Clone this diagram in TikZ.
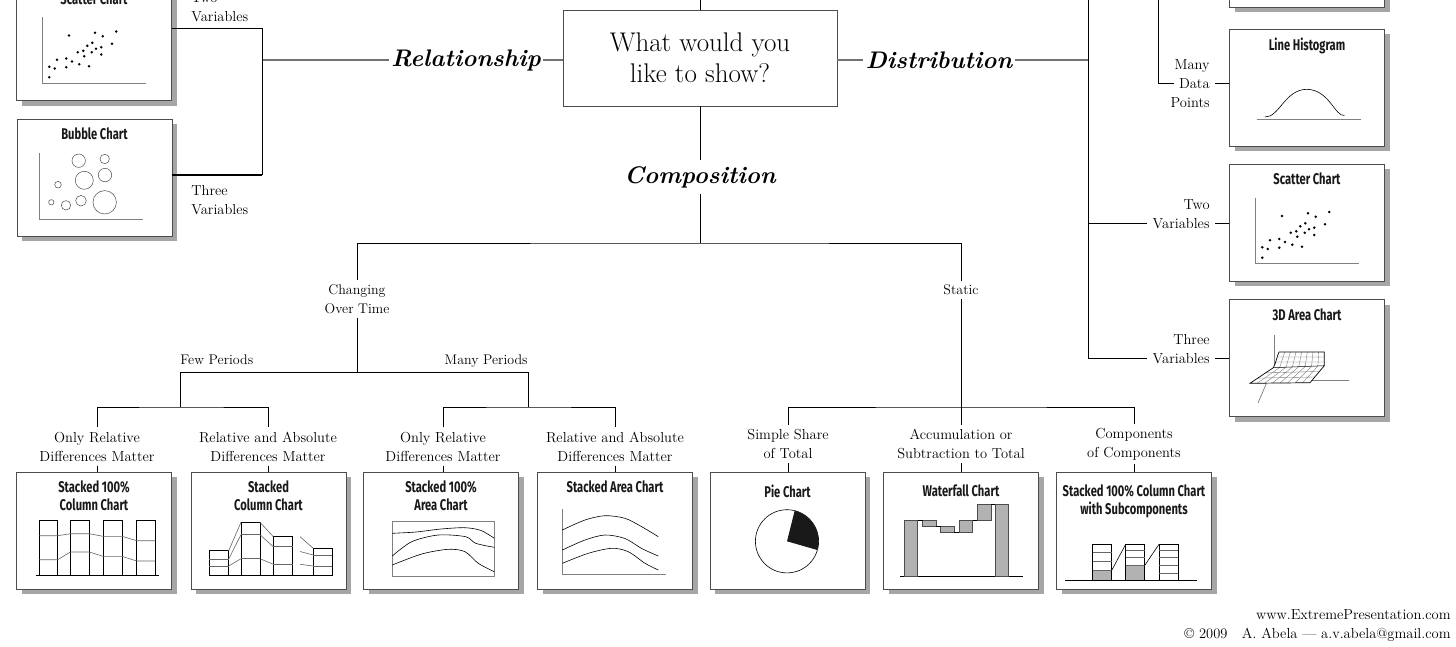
\documentclass[tikz,border=0pt]{standalone}
\usepackage{fontspec}
\newfontfamily\chartfont[FakeStretch=0.72]{Fira Sans}
\usetikzlibrary{positioning,shadows}

\newcommand{\scatterdots}{%
  \draw[axisline] (-52,-25) -- (-52,41) -- (52,41);
  \foreach \x/\y in {-25/-6.5,1/-9.2,8.7/-5.8,22.3/-10.5,18/1.8,-1.7/0.8,-6.7/3.8,-10.7/8.8,-16.3/10.2,2/6.8,7.3/5.2,7.3/12.5,-2.3/10.2,-9.7/14.2,-22/19.5,-27.7/16.5,-37/17.8,-44.7/24.8,-39.3/26.5,-27.7/25.2,-14.7/22.2,-5/24.2,-44.7/35.2}
    \fill (\x,\y) circle[radius=1.4];
}

\begin{document}
\begin{tikzpicture}[x=1pt,y=-1pt,line width=0.8pt,
chartbox/.style={draw=black!70,fill=white,line width=0.9pt,minimum width=155pt,minimum height=117pt,inner sep=0pt,
  drop shadow={shadow xshift=5pt,shadow yshift=-5pt,fill=black!35,opacity=1}},
ctitle/.style={font=\chartfont\bfseries\fontsize{15.5}{18}\selectfont,align=center,inner sep=0pt,text=black!90},
qbox/.style={draw=black!70,line width=0.9pt,minimum width=274pt,minimum height=96pt,align=center,font=\fontsize{27}{31}\selectfont},
cat/.style={font=\bfseries\itshape\fontsize{24}{28}\selectfont,inner xsep=2pt,inner ysep=6pt},
lbl/.style={font=\fontsize{14.5}{19}\selectfont,align=center,inner xsep=5pt,inner ysep=4pt},
sublbl/.style={font=\fontsize{14}{19}\selectfont,align=center,inner xsep=5pt,inner ysep=4pt},
note/.style={font=\fontsize{14.5}{19}\selectfont,inner sep=0pt},
catline/.style={draw=black!55,line width=1.3pt},
axisline/.style={draw=black!50,line width=0.7pt},
thinline/.style={line width=0.6pt}]

\useasboundingbox (0,0) rectangle (1456,646);
\clip (0,0) rectangle (1456,646);

\draw (700,58) node[qbox] (q) {What would you\\like to show?};
\draw (466,60) node[cat] (rel) {Relationship};
\draw (939,60) node[cat] (dist) {Distribution};
\draw (700,177) node[cat] (comp) {Composition};

\coordinate (qtop) at (700,-2);
\coordinate (jl) at (262,60);
\coordinate (jlt) at (262,28);
\coordinate (jlb) at (262,175);
\coordinate (jr) at (1088,60);
\coordinate (jrt) at (1088,-2);
\coordinate (jmt) at (1158,-2);
\coordinate (jc) at (700,243);
\coordinate (jtime) at (357,372);
\coordinate (jfewt) at (180,372);
\coordinate (jmanyt) at (528,372);
\coordinate (jfew) at (180,407);
\coordinate (jmany) at (528,407);
\coordinate (jstat) at (961,407);

\draw (94,42) node[chartbox] (scatL) {};
\draw (94.5,177.5) node[chartbox] (bubble) {};
\draw (1307,-51.5) node[chartbox] (topR) {};
\draw (1307,87.5) node[chartbox] (hist) {};
\draw (1307,222.5) node[chartbox] (scatR) {};
\draw (1307,358) node[chartbox] (area3) {};
\draw (94,530.5) node[chartbox] (col100) {};
\draw (268.5,530.5) node[chartbox] (colst) {};
\draw (441,530.5) node[chartbox] (area100) {};
\draw (615,530.5) node[chartbox] (areast) {};
\draw (787.5,530.5) node[chartbox] (pie) {};
\draw (961,530.5) node[chartbox] (water) {};
\draw (1134,530.5) node[chartbox] (sub) {};

\node[ctitle,below=9pt of scatL.north] {Scatter Chart};
\node[ctitle,below=9pt of bubble.north] {Bubble Chart};
\node[ctitle,below=9pt of hist.north] {Line Histogram};
\node[ctitle,below=9pt of scatR.north] {Scatter Chart};
\node[ctitle,below=9pt of area3.north] {3D Area Chart};
\node[ctitle,below=9pt of col100.north] {Stacked 100\%\\Column Chart};
\node[ctitle,below=9pt of colst.north] {Stacked\\Column Chart};
\node[ctitle,below=9pt of area100.north] {Stacked 100\%\\Area Chart};
\node[ctitle,below=9pt of areast.north] {Stacked Area Chart};
\node[ctitle,below=13pt of pie.north] {Pie Chart};
\node[ctitle,below=13pt of water.north] {Waterfall Chart};
\node[ctitle,below=13pt of sub.north] {Stacked 100\% Column Chart\\with Subcomponents};

\begin{scope}[shift={(scatL.center)}] \scatterdots \end{scope}
\begin{scope}[shift={(scatR.center)}] \scatterdots \end{scope}

\begin{scope}[shift={(bubble.center)}]
\draw[axisline] (-55,-24.5) -- (-55,41.5) -- (48.5,41.5);
\foreach \x/\y/\r in {-15.8/-16.8/6.7,10.2/-18.5/4.7,-10.2/2.8/9,10.5/-2.5/6.7,-36.5/7.2/3.3,-43.2/24.8/2.7,-28.5/27.8/4.7,-13.5/23.2/5.3,10.2/24.8/11.7}
  \draw[black!70,line width=0.5pt] (\x,\y) circle[radius=\r];
\end{scope}

\begin{scope}[shift={(hist.center)}]
\draw[axisline] (-50.3,31.5) -- (54,31.5);
\draw[thinline] (-42,29.5) .. controls (-28,30) and (-22,2) .. (-0.3,1.8) .. controls (22,2) and (28,29) .. (37.3,28);
\end{scope}

\begin{scope}[shift={(area3.center)}]
\draw[axisline] (-33,-23) -- (-33,10);
\draw[axisline] (-34,10) -- (-49,45);
\draw[axisline] (5.3,22) -- (42,22);
\fill[white] (-28,-6) -- (17.3,-6) -- (17.3,7.7) -- (3,24.7) -- (-57,25.3) -- (-33.7,9.7) .. controls (-31,5) and (-30,-2) .. (-28,-6) -- cycle;
\foreach \t in {1,...,7}
  \draw[black!55,line width=0.35pt] ({-28+\t*5.66},-6) -- ({-33.7+\t*6.375},{9.7-\t*0.25}) -- ({-57+\t*7.5},25);
\draw[black!55,line width=0.35pt] (-29.6,-1) -- (17.3,-1) (-31.5,4) -- (17.3,4) (-41.5,14.9) -- (12.5,13.4) (-49.2,20.1) -- (7.8,19);
\draw[line width=0.7pt] (-28,-6) -- (17.3,-6) -- (17.3,7.7) -- (3,24.7) -- (-57,25.3) -- (-33.7,9.7) .. controls (-31,5) and (-30,-2) .. (-28,-6);
\draw[line width=0.5pt] (-33.7,9.7) -- (17.3,7.7);
\end{scope}

\begin{scope}[shift={(col100.center)}]
\draw[line width=1pt] (-58.3,45.2) -- (65,45.2);
\foreach \a/\b in {-54.7/-36.3,-23.7/-4.7,9/28,42.7/61.3}
  \draw[line width=0.7pt] (\a,45.2) rectangle (\b,-9.8);
\draw[black!60,thinline] (-54.7,5.2) -- (-36.3,5.2) -- (-23.7,3.2) -- (-4.7,3.2) -- (9,5.8) -- (28,5.8) -- (42.7,10.2) -- (61.3,10.2);
\draw[black!60,thinline] (-54.7,29.2) -- (-36.3,29.2) -- (-23.7,21.5) -- (-4.7,21.5) -- (9,25.8) -- (28,25.8) -- (42.7,30.5) -- (61.3,30.5);
\end{scope}

\begin{scope}[shift={(colst.center)}]
\draw[line width=1pt] (-59.2,45.2) -- (63.8,45.2);
\foreach \a/\b/\t in {-59.2/-39.8/20.2,-27.5/-8.5/-8.2,4.8/24.2/6.2,44.8/63.8/17.8}
  \draw[line width=0.7pt] (\a,45.2) rectangle (\b,\t);
\draw[thinline,black!60] (-59.2,28.5) -- (-39.8,28.5) (-59.2,35.5) -- (-39.8,35.5) (-27.5,4.2) -- (-8.5,4.2) (-27.5,28.2) -- (-8.5,28.2) (4.8,16.2) -- (24.2,16.2) (4.8,33.8) -- (24.2,33.8) (44.8,24.5) -- (63.8,24.5) (44.8,35.5) -- (63.8,35.5);
\draw[thinline,black!60] (-39.8,20.2) -- (-27.5,-8.2) (-39.8,28.5) -- (-27.5,4.2) (-39.8,35.5) -- (-27.5,28.2) (-8.5,-8.2) -- (4.8,6.2) (-8.5,4.2) -- (4.8,16.2) (-8.5,28.2) -- (4.8,33.8) (31.5,6.2) -- (44.8,17.8) (31.5,21) -- (44.8,24.5) (31.5,33.8) -- (44.8,35.5);
\end{scope}

\begin{scope}[shift={(area100.center)}]
\draw[axisline] (-48.7,-8.8) rectangle (53.3,46.2);
\draw[thinline] plot[smooth] coordinates {(-48.7,2.8) (-25,1.5) (0,-1.5) (24,-2.8) (40,0) (53.3,7.8)};
\draw[thinline] plot[smooth] coordinates {(-48.7,25.5) (-29.3,11.2) (-2.7,4.5) (24.7,6.2) (34.7,12.8) (53.3,16.8)};
\draw[thinline] plot[smooth] coordinates {(-48.7,34.5) (-19.3,23.5) (7.3,18.8) (24,21.2) (37.3,32.8) (53.3,41.2)};
\end{scope}

\begin{scope}[shift={(areast.center)}]
\draw[axisline] (-52.7,-21.2) -- (-52.7,43.5) -- (50.7,43.5);
\draw[thinline] plot[smooth] coordinates {(-52.7,-0.5) (-30,-10.5) (-10,-14.8) (10,-12.2) (26.7,-3.8) (43.3,6.2)};
\draw[thinline] plot[smooth] coordinates {(-52.7,19.5) (-30,9.5) (-10,4.5) (10,8) (26.7,18) (43.3,25.5)};
\draw[thinline] plot[smooth] coordinates {(-52.7,32.8) (-26.7,22.8) (-3.3,17.8) (13.3,21.2) (30,32.8) (43.3,39.5)};
\end{scope}

\begin{scope}[shift={(pie.center)}]
\draw[thinline] (-0.5,10.8) circle[radius=31.6];
\fill[black!90] (-0.5,10.8) -- ++(76:31.6pt) arc[start angle=76,end angle=-16,radius=31.6pt] -- cycle;
\end{scope}

\begin{scope}[shift={(water.center)}]
\draw[line width=1pt] (-61,45.5) -- (61.7,45.5);
\foreach \a/\b/\c/\d in {-56.7/-43.3/-9.8/45.5,-38.3/-25/-9.8/-4.5,-20.3/-7/-4.5/2.2,-1.7/11.7/-9.8/2.2,16.3/30/-26.2/-9.8,34.3/47.7/-26.2/45.5}
  \draw[fill=black!30,draw=black!70,line width=0.6pt] (\a,\c) rectangle (\b,\d);
\draw[thinline] (-43.3,-9.8) -- (-38.3,-9.8) (-25,-4.5) -- (-20.3,-4.5) (-7,2.2) -- (-1.7,2.2) (11.7,-9.8) -- (16.3,-9.8) (30,-26.2) -- (34.3,-26.2);
\end{scope}

\begin{scope}[shift={(sub.center)}]
\draw[line width=1pt] (-69,49.5) -- (62.7,49.5);
\fill[black!30] (-41.3,40.2) rectangle (-22.3,49.5) (-8.3,35.2) rectangle (10.3,49.5);
\foreach \a in {-41.3,-8.3,25}
  \draw[line width=0.6pt] (\a,49.5) rectangle ({\a+18.8},13.8);
\draw[thinline,black!60] (-41.3,22.2) -- (-22.5,22.2) (-41.3,31.2) -- (-22.5,31.2) (-41.3,40.2) -- (-22.5,40.2) (-8.3,20.2) -- (10.5,20.2) (-8.3,26.8) -- (10.5,26.8) (-8.3,35.2) -- (10.5,35.2) (25,19.5) -- (43.8,19.5) (25,26.8) -- (43.8,26.8) (25,35.2) -- (43.8,35.2) (25,42.8) -- (43.8,42.8);
\draw[thinline] (-22.5,40.2) -- (-8.3,13.8) (10.5,35.2) -- (25,13.8);
\end{scope}

\draw (1215,88) node[lbl,anchor=base east] (data) {Data};
\draw ([shift={(-5pt,19pt)}]data.base east) node[note,anchor=base east] {Many};
\draw ([shift={(-5pt,-19pt)}]data.base east) node[note,anchor=base east] {Points};
\draw (1215,228) node[lbl,anchor=base east] (varR) {Variables};
\draw ([shift={(-5pt,19pt)}]varR.base east) node[note,anchor=base east] {Two};
\draw (1215,363) node[lbl,anchor=base east] (varR3) {Variables};
\draw ([shift={(-5pt,19pt)}]varR3.base east) node[note,anchor=base east] {Three};

\draw (191,21) node[note,anchor=base west] (varL) {Variables};
\draw ([yshift=19pt]varL.base west) node[note,anchor=base west] {Two};
\draw (191,195) node[note,anchor=base west] (threeL) {Three};
\draw ([yshift=-19pt]threeL.base west) node[note,anchor=base west] {Variables};

\draw (357,299) node[sublbl] (chg) {Changing\\Over Time};
\draw (961,290) node[sublbl] (stat) {Static};
\draw (180,364) node[note,anchor=base west,font=\fontsize{14}{19}\selectfont] {Few Periods};
\draw (528,364) node[note,anchor=base east,font=\fontsize{14}{19}\selectfont] {Many Periods};
\draw (97,446.5) node[lbl] (l1) {Only Relative\\Differences Matter};
\draw (268,446.5) node[lbl] (l2) {Relative and Absolute\\Differences Matter};
\draw (443,446.5) node[lbl] (l3) {Only Relative\\Differences Matter};
\draw (615,446.5) node[lbl] (l4) {Relative and Absolute\\Differences Matter};
\draw (788,444) node[lbl] (l5) {Simple Share\\of Total};
\draw (961,444) node[lbl] (l6) {Accumulation or\\Subtraction to Total};
\draw (1134,444) node[lbl] (l7) {Components\\of Components};

\draw (1451,619) node[note,anchor=base east] (web) {www.ExtremePresentation.com};
\draw (1451,638) node[note,anchor=base east] (copy) {\textcopyright{} 2009\quad A. Abela — a.v.abela@gmail.com};

\draw (qtop) -- (q.north);
\draw (q.south) -- (comp.north);
\draw[catline] (rel.east) -- (rel.east -| q.west);
\draw[catline] (rel.west) -- (jl);
\draw[catline] (q.east |- dist.west) -- (dist.west);
\draw[catline] (dist.east) -- (jr);
\draw (scatL.east |- jlt) -- (jlt) -- (jlb);
\draw[line width=2pt] (jlb) -- (jlb -| bubble.east);
\draw (jrt) |- (varR3.west);
\draw (jr |- varR.west) -- (varR.west);
\draw (varR.east) -- (varR.east -| scatR.west);
\draw (varR3.east) -- (varR3.east -| area3.west);
\draw (jmt) |- (data.west);
\draw (data.east) -- (data.east -| hist.west);
\draw (chg.north) |- (jc) -| (stat.north);
\draw (comp.south) -- (jc);
\draw (chg.south) -- (jtime);
\draw (jfewt) -- (jmanyt);
\draw (jfewt) -- (jfew);
\draw (jmanyt) -- (jmany);
\draw (l1.north) |- (jfew) -| (l2.north);
\draw (l3.north) |- (jmany) -| (l4.north);
\draw (l5.north) |- (jstat) -| (l7.north);
\draw (stat.south) -- (l6.north);
\draw (l1.south) -- (l1.south |- col100.north);
\draw (l2.south) -- (l2.south |- colst.north);
\draw (l3.south) -- (l3.south |- area100.north);
\draw (l4.south) -- (l4.south |- areast.north);
\draw (l5.south) -- (l5.south |- pie.north);
\draw (l6.south) -- (l6.south |- water.north);
\draw (l7.south) -- (l7.south |- sub.north);
\end{tikzpicture}
\end{document}
